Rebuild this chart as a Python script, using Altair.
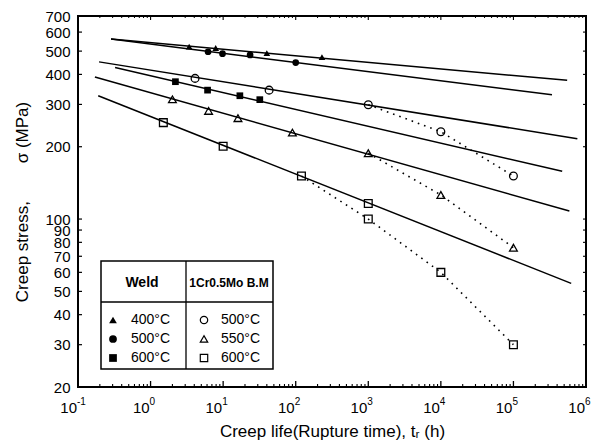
import altair as alt
import pandas as pd

# ---------------- data ----------------
weld_temp = ["400°C"] * 4 + ["500°C"] * 4 + ["600°C"] * 4
weld_t = [3.4, 7.9, 40, 230, 6.2, 9.8, 23.5, 100, 2.2, 6.1, 17, 32]
weld_s = [522, 515, 490, 472, 497, 488, 482, 448, 373, 344, 326, 314]

bm_temp = ["500°C"] * 5 + ["550°C"] * 7 + ["600°C"] * 7
bm_t = [4.1, 43, 1000, 1e4, 1e5,
        2.0, 6.3, 16, 90, 1000, 1e4, 1e5,
        1.5, 10, 120, 1000, 1000, 1e4, 1e5]
bm_s = [385, 344, 299, 231, 151,
        315, 282, 263, 229, 188, 126, 76,
        252, 201, 151, 116, 100, 60, 30]

# fitted (solid) lines: end points
fit_id = ["w400", "w400", "w500", "w500", "w600", "w600",
          "b500", "b500", "b550", "b550", "b600", "b600"]
fit_t = [0.285, 5.5e5, 0.285, 3.4e5, 0.324, 4.7e5,
         0.195, 7.6e5, 0.171, 5.9e5, 0.19, 6.25e5]
fit_s = [561, 378, 561, 329, 427, 158,
         451, 216, 390, 108, 326, 54]

# dotted lines through long-term base-metal data
dot_id = ["b500"] * 3 + ["b550"] * 3 + ["b600"] * 4
dot_t = [1000, 1e4, 1e5, 1000, 1e4, 1e5, 120, 1000, 1e4, 1e5]
dot_s = [299, 231, 151, 188, 126, 76, 151, 100, 60, 30]

# axis ticks
x_major = [0.1, 1, 10, 100, 1e3, 1e4, 1e5, 1e6]
x_exp = ["-1", "0", "1", "2", "3", "4", "5", "6"]
x_minor = [m * d for d in x_major[:-1] for m in range(2, 10)]
y_ticks = [20, 30, 40, 50, 60, 70, 80, 90, 100, 200, 300, 400, 500, 600, 700]

weld_order = ["400°C", "500°C", "600°C"]
bm_order = ["500°C", "550°C", "600°C"]

W, H = 508, 371
FONT = "Liberation Sans"

weld_df = pd.DataFrame({"temp": weld_temp, "t": weld_t, "s": weld_s})
bm_df = pd.DataFrame({"temp": bm_temp, "t": bm_t, "s": bm_s})
fit_df = pd.DataFrame({"id": fit_id, "t": fit_t, "s": fit_s})
dot_df = pd.DataFrame({"id": dot_id, "t": dot_t, "s": dot_s})
maj_df = pd.DataFrame({"t": x_major, "e": x_exp})
min_df = pd.DataFrame({"t": x_minor})
yt_df = pd.DataFrame({"s": y_ticks})
one = pd.DataFrame({"a": [0]})

xscale = alt.Scale(type="log", domain=[0.1, 1e6], nice=False)
yscale = alt.Scale(type="log", domain=[20, 700], nice=False)

X = alt.X("t:Q", scale=xscale,
          axis=alt.Axis(labels=False, ticks=False, domain=False, grid=False,
                        title="Creep life(Rupture time), tᵣ (h)",
                        titleFontSize=17, titleFontWeight="normal",
                        titlePadding=36))
Y = alt.Y("s:Q", scale=yscale,
          axis=alt.Axis(values=y_ticks, ticks=False, domain=False, grid=False,
                        labelFontSize=15, labelPadding=8, labelOverlap=False,
                        labelFlush=False,
                        title="Creep stress,\u00a0\u00a0\u00a0\u00a0\u00a0\u00a0\u00a0\u00a0σ (MPa)",
                        titleFontSize=17, titleFontWeight="normal",
                        titlePadding=13))

fit = alt.Chart(fit_df).mark_line(color="black", strokeWidth=1.5).encode(
    x=X, y=Y, detail="id:N")
dots = alt.Chart(dot_df).mark_line(color="black", strokeWidth=1.6,
                                   strokeDash=[1.6, 5]).encode(
    x=X, y=Y, detail="id:N")

weld_pts = alt.Chart(weld_df).mark_point(filled=True, color="black", opacity=1,
                                         size=45).encode(
    x=X, y=Y,
    shape=alt.Shape("temp:N",
                    scale=alt.Scale(domain=weld_order,
                                    range=["triangle-up", "circle", "square"]),
                    legend=alt.Legend(title=None, orient="none", legendX=28,
                                      legendY=297, symbolSize=60,
                                      symbolFillColor="black",
                                      symbolStrokeColor="black",
                                      labelFontSize=14, labelFont=FONT,
                                      labelOffset=11, rowPadding=5,
                                      padding=0)))
bm_pts = alt.Chart(bm_df).mark_point(filled=False, color="black", opacity=1,
                                     size=60, strokeWidth=1.3).encode(
    x=X, y=Y,
    shape=alt.Shape("temp:N",
                    scale=alt.Scale(domain=bm_order,
                                    range=["circle", "triangle-up", "square"]),
                    legend=alt.Legend(title=None, orient="none", legendX=119,
                                      legendY=297, symbolSize=55,
                                      symbolStrokeColor="black",
                                      symbolStrokeWidth=1.2,
                                      labelFontSize=14, labelFont=FONT,
                                      labelOffset=10, rowPadding=5,
                                      padding=0)))

# inward ticks
maj_bot = alt.Chart(maj_df).mark_rule(color="black", strokeWidth=1.3).encode(
    x=X, y=alt.value(H), y2=alt.value(H - 6))
min_bot = alt.Chart(min_df).mark_rule(color="black", strokeWidth=1.1).encode(
    x=X, y=alt.value(H), y2=alt.value(H - 3))
maj_top = alt.Chart(maj_df).mark_rule(color="black", strokeWidth=1.1).encode(
    x=X, y=alt.value(0), y2=alt.value(4))
min_top = alt.Chart(min_df).mark_rule(color="black", strokeWidth=1).encode(
    x=X, y=alt.value(0), y2=alt.value(2))
yt_left = alt.Chart(yt_df).mark_rule(color="black", strokeWidth=1.2).encode(
    y=Y, x=alt.value(0), x2=alt.value(4))
yt_right = alt.Chart(yt_df).mark_rule(color="black", strokeWidth=1.1).encode(
    y=Y, x=alt.value(W), x2=alt.value(W - 3))

# x tick labels 10^n
lab10 = alt.Chart(maj_df).mark_text(text="10", align="right", baseline="alphabetic",
                                    dx=-1, fontSize=15, font=FONT,
                                    color="black").encode(
    x=X, y=alt.value(H + 26))
labexp = alt.Chart(maj_df).mark_text(align="left", baseline="alphabetic",
                                     dx=-1, fontSize=10, font=FONT,
                                     color="black").encode(
    x=X, y=alt.value(H + 18), text="e:N")

# legend table frame and headers
lg_box = alt.Chart(one).mark_rect(fill="white", stroke="black",
                                  strokeWidth=1.5).encode(
    x=alt.value(23), x2=alt.value(195), y=alt.value(245), y2=alt.value(353))
lg_v = alt.Chart(one).mark_rule(color="black", strokeWidth=1.3).encode(
    x=alt.value(108), y=alt.value(245), y2=alt.value(353))
lg_h = alt.Chart(one).mark_rule(color="black", strokeWidth=1.3).encode(
    x=alt.value(23), x2=alt.value(195), y=alt.value(286))
lg_t1 = alt.Chart(one).mark_text(text="Weld", fontSize=14, fontWeight="bold",
                                 font=FONT, color="black").encode(
    x=alt.value(64), y=alt.value(267))
lg_t2 = alt.Chart(one).mark_text(text="1Cr0.5Mo B.M", fontSize=12,
                                 fontWeight="bold", font=FONT,
                                 color="black").encode(
    x=alt.value(151), y=alt.value(267))

chart = alt.layer(
    fit, dots, maj_bot, min_bot, maj_top, min_top, yt_left, yt_right,
    lab10, labexp, lg_box, lg_v, lg_h, lg_t1, lg_t2, weld_pts, bm_pts
).resolve_scale(shape="independent").properties(
    width=W, height=H,
    autosize=alt.AutoSizeParams(type="none"),
    padding={"left": 70, "top": 8, "right": 10, "bottom": 58},
).configure_view(stroke="black", strokeWidth=2).configure_axis(
    labelFont=FONT, titleFont=FONT, labelColor="black", titleColor="black"
).configure_legend(labelColor="black")

chart.save("out.html", embed_options={"renderer": "svg", "actions": False})
